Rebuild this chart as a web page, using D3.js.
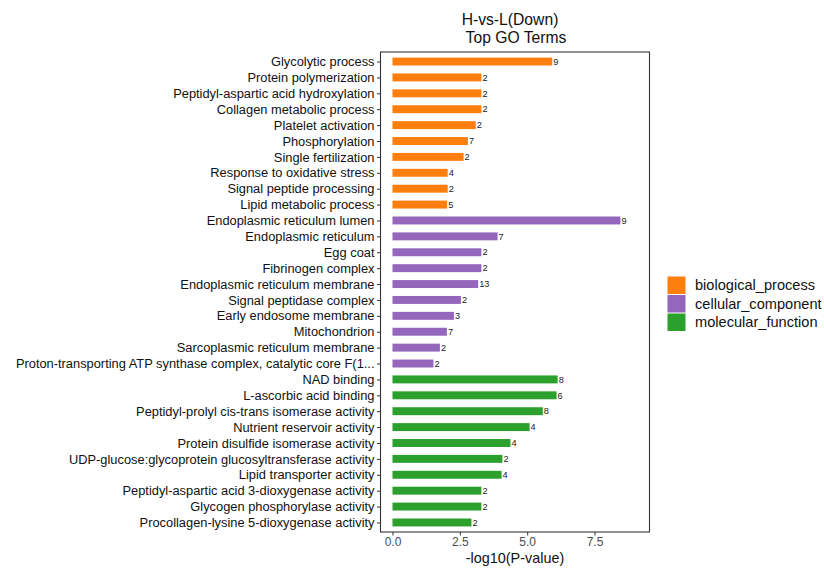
<!DOCTYPE html>
<html>
<head>
<meta charset="utf-8">
<script src="https://cdn.jsdelivr.net/npm/d3@7"></script>
<style>
  html, body { margin: 0; padding: 0; background: #fff; }
  svg { display: block; font-family: "Liberation Sans", Arial, Helvetica, sans-serif; }
</style>
</head>
<body>
<svg id="chart" width="824" height="568"></svg>
<script>
// GO terms, top to bottom
const terms = [
  "Glycolytic process",
  "Protein polymerization",
  "Peptidyl-aspartic acid hydroxylation",
  "Collagen metabolic process",
  "Platelet activation",
  "Phosphorylation",
  "Single fertilization",
  "Response to oxidative stress",
  "Signal peptide processing",
  "Lipid metabolic process",
  "Endoplasmic reticulum lumen",
  "Endoplasmic reticulum",
  "Egg coat",
  "Fibrinogen complex",
  "Endoplasmic reticulum membrane",
  "Signal peptidase complex",
  "Early endosome membrane",
  "Mitochondrion",
  "Sarcoplasmic reticulum membrane",
  "Proton-transporting ATP synthase complex, catalytic core F(1...",
  "NAD binding",
  "L-ascorbic acid binding",
  "Peptidyl-prolyl cis-trans isomerase activity",
  "Nutrient reservoir activity",
  "Protein disulfide isomerase activity",
  "UDP-glucose:glycoprotein glucosyltransferase activity",
  "Lipid transporter activity",
  "Peptidyl-aspartic acid 3-dioxygenase activity",
  "Glycogen phosphorylase activity",
  "Procollagen-lysine 5-dioxygenase activity"
];

// ontology of each term
const ontology = [
  "biological_process","biological_process","biological_process","biological_process","biological_process",
  "biological_process","biological_process","biological_process","biological_process","biological_process",
  "cellular_component","cellular_component","cellular_component","cellular_component","cellular_component",
  "cellular_component","cellular_component","cellular_component","cellular_component","cellular_component",
  "molecular_function","molecular_function","molecular_function","molecular_function","molecular_function",
  "molecular_function","molecular_function","molecular_function","molecular_function","molecular_function"
];

// -log10(P-value)
const negLogP = [
  5.93, 3.30, 3.30, 3.30, 3.09, 2.80, 2.64, 2.05, 2.05, 2.03,
  8.46, 3.90, 3.30, 3.30, 3.18, 2.54, 2.28, 2.02, 1.76, 1.52,
  6.13, 6.09, 5.58, 5.09, 4.38, 4.08, 4.05, 3.30, 3.30, 2.93
];

// gene counts per term
const geneCounts = [
  9, 2, 2, 2, 2, 7, 2, 4, 2, 5,
  9, 7, 2, 2, 13, 2, 3, 7, 2, 2,
  8, 6, 8, 4, 4, 2, 4, 2, 2, 2
];

const ontologies = ["biological_process", "cellular_component", "molecular_function"];
const palette = ["#ff7f0e", "#9467bd", "#2ca02c"];
const xTicks = [0, 2.5, 5, 7.5];
const titleLines = ["H-vs-L(Down)", " Top GO Terms"];
const xTitle = "-log10(P-value)";

const rows = terms.map((t, i) => ({ term: t, ont: ontology[i], v: negLogP[i], n: geneCounts[i] }));

const svg = d3.select("#chart");
const panel = { left: 380.5, right: 649.5, top: 52, bottom: 532 };

const x = d3.scaleLinear().domain([-0.445, 9.54]).range([panel.left, panel.right]);
const y = d3.scalePoint().domain(terms).range([panel.top, panel.bottom]).padding(0.6);
const color = d3.scaleOrdinal().domain(ontologies).range(palette);
const barH = y.step() * 0.5;

// bars
svg.append("g").selectAll("rect").data(rows).join("rect")
  .attr("x", x(0))
  .attr("y", d => y(d.term) - barH / 2)
  .attr("width", d => x(d.v) - x(0))
  .attr("height", barH)
  .attr("fill", d => color(d.ont));

// gene count labels
svg.append("g").selectAll("text").data(rows).join("text")
  .attr("x", d => x(d.v) + 1)
  .attr("y", d => y(d.term))
  .attr("dy", "0.35em")
  .attr("font-size", 9.2)
  .attr("fill", "#222")
  .text(d => d.n);

// panel border
svg.append("rect")
  .attr("x", panel.left).attr("y", panel.top)
  .attr("width", panel.right - panel.left).attr("height", panel.bottom - panel.top)
  .attr("fill", "none").attr("stroke", "#333").attr("stroke-width", 1.1);

// y axis
const yAxis = svg.append("g")
  .attr("transform", `translate(${panel.left},0)`)
  .call(d3.axisLeft(y).tickSize(3.5).tickPadding(2.5));
yAxis.select(".domain").remove();
yAxis.selectAll(".tick line").attr("stroke", "#333");
yAxis.selectAll(".tick text")
  .attr("font-size", 12.85).attr("fill", "#111")
  .style("font-family", "'Liberation Sans', Arial, sans-serif");

// x axis
const xAxis = svg.append("g")
  .attr("transform", `translate(0,${panel.bottom})`)
  .call(d3.axisBottom(x).tickValues(xTicks).tickFormat(d3.format(".1f")).tickSize(3.5).tickPadding(2));
xAxis.select(".domain").remove();
xAxis.selectAll(".tick line").attr("stroke", "#333");
xAxis.selectAll(".tick text")
  .attr("font-size", 12).attr("fill", "#4d4d4d")
  .style("font-family", "'Liberation Sans', Arial, sans-serif");

// x axis title
svg.append("text")
  .attr("x", (panel.left + panel.right) / 2)
  .attr("y", 563)
  .attr("text-anchor", "middle")
  .attr("font-size", 14.4)
  .attr("fill", "#111")
  .text(xTitle);

// title
svg.append("text")
  .attr("x", 510).attr("y", 24.5)
  .attr("text-anchor", "middle").attr("font-size", 15.7).attr("fill", "#111")
  .text(titleLines[0]);
svg.append("text")
  .attr("x", 516).attr("y", 42.5)
  .attr("text-anchor", "middle").attr("font-size", 15.7).attr("fill", "#111")
  .text(titleLines[1].trim());

// legend
const legend = svg.append("g").attr("transform", "translate(667,276)");
const keyH = 18.5;
const item = legend.selectAll("g").data(ontologies).join("g")
  .attr("transform", (d, i) => `translate(0,${i * keyH})`);
item.append("rect")
  .attr("x", 0.5).attr("y", 0.5)
  .attr("width", 18).attr("height", keyH - 1)
  .attr("fill", d => color(d));
item.append("text")
  .attr("x", 28).attr("y", keyH / 2)
  .attr("dy", "0.35em")
  .attr("font-size", 14.6).attr("fill", "#111")
  .text(d => d);
</script>
</body>
</html>
